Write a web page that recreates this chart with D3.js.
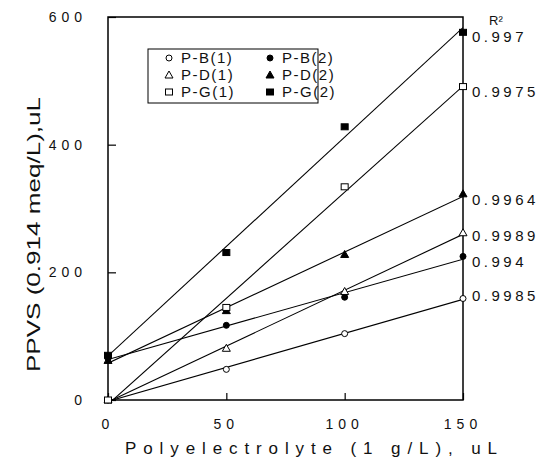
<!DOCTYPE html>
<html>
<head>
<meta charset="utf-8">
<script src="https://cdn.jsdelivr.net/npm/d3@7"></script>
<style>
  body { margin: 0; background: #fff; }
  text { font-family: "Liberation Sans", Arial, sans-serif; fill: #111; }
</style>
</head>
<body>
<div id="chart"></div>
<script>
// values
var xValues = [0, 50, 100, 150];
var seriesNames = ["P-B(1)", "P-B(2)", "P-D(1)", "P-D(2)", "P-G(1)", "P-G(2)"];
var pb1 = [0, 48, 104, 159];
var pb2 = [65, 117, 161, 225];
var pd1 = [0, 81, 170, 262];
var pd2 = [62, 140, 228, 323];
var pg1 = [0, 145, 334, 491];
var pg2 = [70, 231, 428, 576];
var r2Labels = ["0.9985", "0.994", "0.9989", "0.9964", "0.9975", "0.997"];
var xTicks = [0, 50, 100, 150];
var yTicks = [0, 200, 400, 600];

var allSeries = [pb1, pb2, pd1, pd2, pg1, pg2];
var shapes = ["circle", "circle", "triangle", "triangle", "square", "square"];
var filled = [false, true, false, true, false, true];
// small vertical nudges so the R2 labels do not collide
var r2Nudge = [-3, 6, 3, 6, 5, 5];

var svgWidth = 541;
var svgHeight = 461;
var margin = { top: 17, right: 78, bottom: 61, left: 108 };
var width = svgWidth - margin.left - margin.right;
var height = svgHeight - margin.top - margin.bottom;

var svg = d3.select("#chart")
  .append("svg")
  .attr("width", svgWidth)
  .attr("height", svgHeight);

var chartGroup = svg.append("g")
  .attr("transform", "translate(" + margin.left + "," + margin.top + ")");

var xScale = d3.scaleLinear().domain([0, 150]).range([0, width]);
var yScale = d3.scaleLinear().domain([0, 600]).range([height, 0]);

chartGroup.append("clipPath").attr("id", "plotclip")
  .append("rect").attr("width", width).attr("height", height);

// frame
chartGroup.append("rect")
  .attr("width", width).attr("height", height)
  .attr("fill", "none").attr("stroke", "#000").attr("stroke-width", 1.5);

// axes with inner ticks
var bottomAxis = d3.axisBottom(xScale).tickValues(xTicks).tickSize(-7).tickFormat("");
var leftAxis = d3.axisLeft(yScale).tickValues(yTicks).tickSize(-8).tickFormat("");
chartGroup.append("g").attr("transform", "translate(0," + height + ")").call(bottomAxis)
  .call(g => g.select(".domain").remove());
chartGroup.append("g").call(leftAxis)
  .call(g => g.select(".domain").remove());
chartGroup.selectAll(".tick line").attr("stroke", "#000").attr("stroke-width", 1.2);

// tick labels
chartGroup.selectAll(".xlab").data(xTicks).enter().append("text")
  .attr("x", d => xScale(d))
  .attr("y", height + 29)
  .attr("text-anchor", "middle")
  .style("font-size", "14px")
  .style("letter-spacing", "5px")
  .text(d => d);

chartGroup.selectAll(".ylab").data(yTicks).enter().append("text")
  .attr("x", -21)
  .attr("y", d => yScale(d) + 5)
  .attr("text-anchor", "end")
  .style("font-size", "14px")
  .style("letter-spacing", "5px")
  .text(d => d);

// regression lines
function fit(ys) {
  var mx = d3.mean(xValues), my = d3.mean(ys);
  var sxy = d3.sum(xValues, (x, i) => (x - mx) * (ys[i] - my));
  var sxx = d3.sum(xValues, x => (x - mx) * (x - mx));
  var b = sxy / sxx;
  return { slope: b, intercept: my - b * mx };
}

var lineGroup = chartGroup.append("g").attr("clip-path", "url(#plotclip)");
allSeries.forEach(function(ys) {
  var f = fit(ys);
  lineGroup.append("line")
    .attr("x1", xScale(0)).attr("y1", yScale(f.intercept))
    .attr("x2", xScale(150)).attr("y2", yScale(f.intercept + f.slope * 150))
    .attr("stroke", "#000").attr("stroke-width", 1.1);
});

// markers
function drawMarker(g, shape, fill, cx, cy) {
  var col = fill ? "#000" : "#fff";
  if (shape == "circle") {
    g.append("circle").attr("cx", cx).attr("cy", cy).attr("r", 3)
      .attr("fill", col).attr("stroke", "#000").attr("stroke-width", 1);
  } else if (shape == "square") {
    g.append("rect").attr("x", cx - 3.5).attr("y", cy - 3).attr("width", 7).attr("height", 6)
      .attr("fill", col).attr("stroke", "#000").attr("stroke-width", 1);
  } else {
    g.append("path").attr("d", "M" + cx + "," + (cy - 4) + "L" + (cx + 4) + "," + (cy + 3) + "L" + (cx - 4) + "," + (cy + 3) + "Z")
      .attr("fill", col).attr("stroke", "#000").attr("stroke-width", 1);
  }
}

var markerGroup = chartGroup.append("g");
allSeries.forEach(function(ys, s) {
  ys.forEach(function(v, i) {
    drawMarker(markerGroup, shapes[s], filled[s], xScale(xValues[i]), yScale(v));
  });
});

// R2 labels
chartGroup.append("text")
  .attr("x", width + 26).attr("y", 8)
  .style("font-size", "13px")
  .text("R²");

chartGroup.selectAll(".r2").data(allSeries).enter().append("text")
  .attr("x", width + 9)
  .attr("y", (d, i) => yScale(d[3]) + r2Nudge[i] + 5)
  .style("font-size", "15px")
  .style("letter-spacing", "3.5px")
  .text((d, i) => r2Labels[i]);

// legend
var legend = chartGroup.append("g").attr("transform", "translate(40,32)");
legend.append("rect")
  .attr("width", 170).attr("height", 54)
  .attr("fill", "#fff").attr("stroke", "#000").attr("stroke-width", 1);
seriesNames.forEach(function(name, i) {
  var col = i % 2, row = Math.floor(i / 2);
  var lx = 21 + col * 101, ly = 9 + row * 17;
  drawMarker(legend, shapes[i], filled[i], lx, ly);
  legend.append("text")
    .attr("x", lx + 12).attr("y", ly + 5)
    .style("font-size", "15px")
    .style("letter-spacing", "1.5px")
    .text(name);
});

// axis titles
svg.append("text")
  .attr("x", 125).attr("y", 454)
  .attr("textLength", 372)
  .attr("lengthAdjust", "spacing")
  .style("font-size", "17px")
  .text("Polyelectrolyte (1 g/L), uL");

svg.append("text")
  .attr("transform", "translate(40,372) rotate(-90)")
  .attr("textLength", 275)
  .attr("lengthAdjust", "spacingAndGlyphs")
  .style("font-size", "18px")
  .text("PPVS (0.914 meq/L),uL");
</script>
</body>
</html>
